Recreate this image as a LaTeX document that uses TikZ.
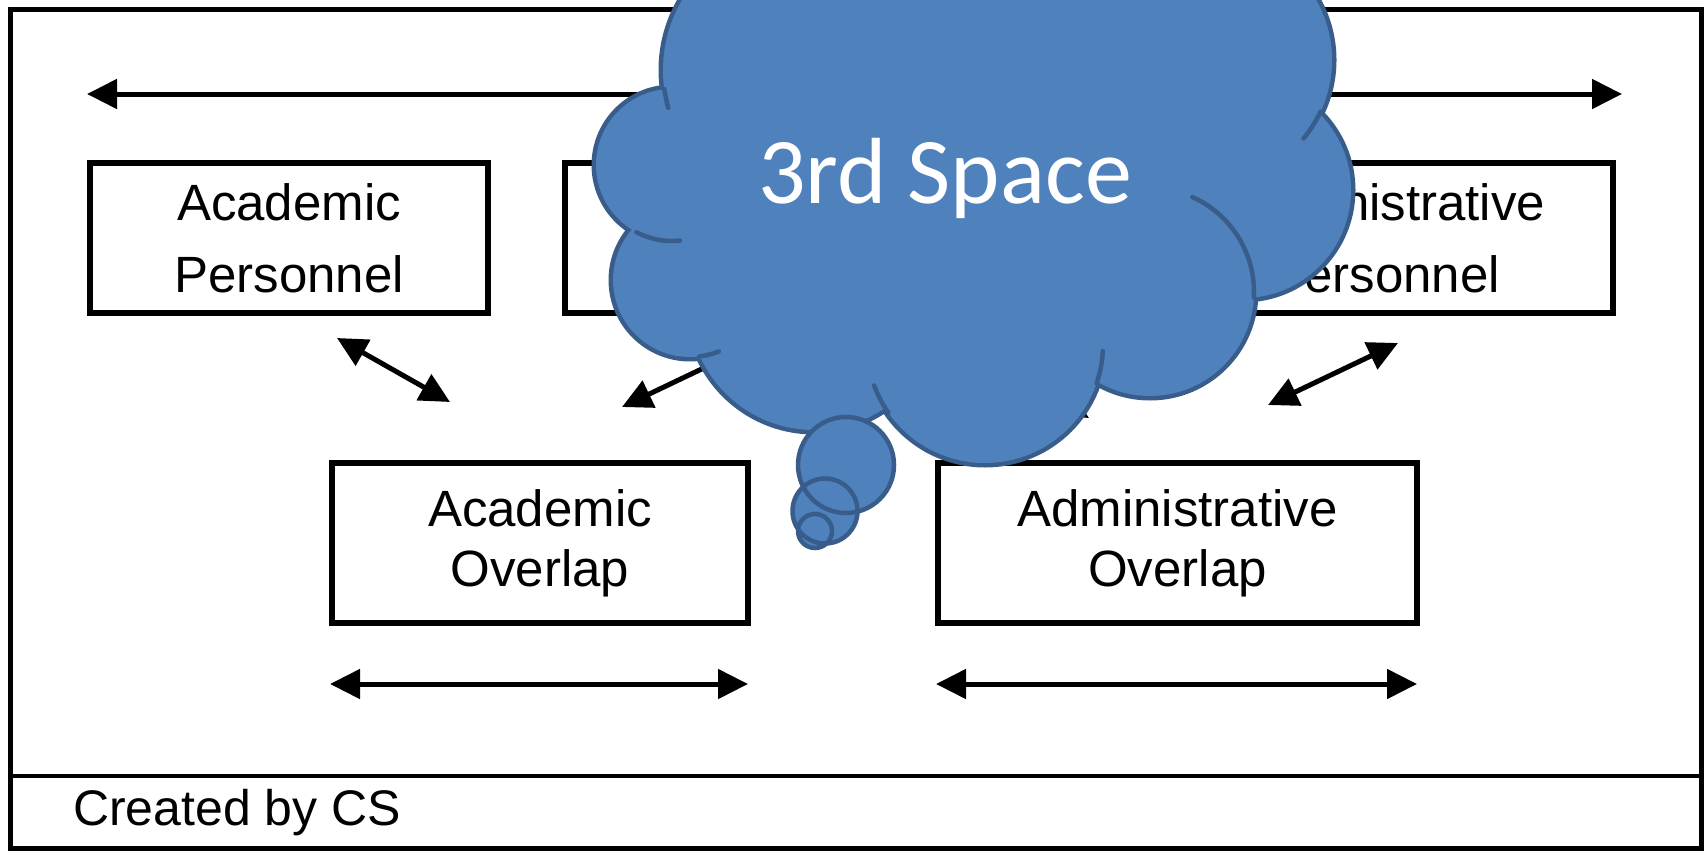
\documentclass[tikz,border=0pt]{standalone}
\usepackage{fontspec}
\setmainfont{Liberation Sans}
\newfontfamily\cloudfont{Carlito}
\usetikzlibrary{arrows.meta}
\definecolor{cloudblue}{HTML}{4F81BD}
\definecolor{cloudedge}{HTML}{385D8A}

\begin{document}
\begin{tikzpicture}[x=1pt, y=-1pt,
  box/.style={draw, line width=6pt, inner sep=0pt, align=center},
  perslabel/.style={font=\fontsize{51}{72}\selectfont},
  overlabel/.style={font=\fontsize{51}{60}\selectfont},
  twoway/.style={{Triangle[length=30pt,width=29pt]}-{Triangle[length=30pt,width=29pt]}, line width=5pt},
  cloudline/.style={draw=cloudedge, line width=4.5pt}]

 \useasboundingbox (0,0) rectangle (1707,851);

 % frame and footer
 \draw[line width=5pt] (10,10) rectangle (1701,848);
 \draw[line width=3.5pt] (10,776) -- (1701,776);
 \node[anchor=base west, inner sep=0pt, font=\fontsize{50}{50}\selectfont] (credit) at (73,825) {Created by CS};

 % boxes
 \node[box, perslabel, minimum width=398pt, minimum height=150pt] (acadpers) at (289,238) {Academic\\Personnel};
 \node[box, minimum width=515pt, minimum height=150pt] (midbox) at (822.5,238) {};
 \node[box, perslabel, minimum width=456pt, minimum height=150pt] (adminpers) at (1385,238) {Administrative\\Personnel};
 \node[box, overlabel, minimum width=416pt, minimum height=160pt] (acadover) at (540,543) {Academic\\Overlap};
 \node[box, overlabel, minimum width=479pt, minimum height=160pt] (adminover) at (1177.5,543) {Administrative\\Overlap};

 % arrow ends
 \coordinate (topL) at (87,94);
 \coordinate (topR) at (1622,94);
 \coordinate (d1a) at (337,338);
 \coordinate (d1b) at (450,402);
 \coordinate (d2a) at (752,345);
 \coordinate (d2b) at (622,407);
 \coordinate (d3a) at (973,350);
 \coordinate (d3b) at (1089,418);
 \coordinate (d4a) at (1398,343);
 \coordinate (d4b) at (1268,405);
 \coordinate (acL) at (330,684);
 \coordinate (acR) at (748,684);
 \coordinate (adL) at (936,684);
 \coordinate (adR) at (1417,684);

 \draw[twoway] (topL) -- (topR);
 \draw[twoway] (d1a) -- (d1b);
 \draw[twoway] (d2a) -- (d2b);
 \draw[twoway] (d3a) -- (d3b);
 \draw[twoway] (d4a) -- (d4b);
 \draw[twoway] (acL) -- (acR);
 \draw[twoway] (adL) -- (adR);

 % cloud
 \begin{scope}
  \clip (0,0) rectangle (1707,851);
  \foreach \cx/\cy/\rad in {800/70/137, 1210/60/122, 1243/190/108, 1150/292/104,
                            985/345/118, 814/305/125, 690/280/77, 672/165/76}
   \draw[draw=cloudedge, line width=9pt] (\cx,\cy) circle[radius=\rad];
  \fill[cloudblue] (700,0) -- (1300,0) -- (1300,200) -- (1150,250) -- (1000,300)
                   -- (800,300) -- (700,250) -- (680,100) -- cycle;
  \foreach \cx/\cy/\rad in {800/70/137, 1210/60/122, 1243/190/108, 1150/292/104,
                            985/345/118, 814/305/125, 690/280/77, 672/165/76}
   \fill[cloudblue] (\cx,\cy) circle[radius=\rad];
  \foreach \cx/\cy/\rad/\a/\b in {800/70/137/164/172, 672/165/76/84/118, 690/280/77/68/83,
                                  985/345/118/145/160, 985/345/118/3/19, 1150/292/104/-66/3,
                                  1210/60/122/25/40}
   \draw[cloudline, line cap=round] plot[domain=\a:\b, samples=20] ({\cx+\rad*cos(\x)},{\cy+\rad*sin(\x)});
 \end{scope}

 % bubbles
 \fill[cloudblue] (846,465) circle[radius=48] (825,511) circle[radius=32.5] (815,531) circle[radius=17];
 \draw[cloudline] (846,465) circle[radius=48] (825,511) circle[radius=32.5] (815,531) circle[radius=17];

 \node[anchor=base, inner sep=0pt, text=white, font=\cloudfont\fontsize{94}{94}\selectfont] (third) at (945,203) {3rd Space};

\end{tikzpicture}
\end{document}
